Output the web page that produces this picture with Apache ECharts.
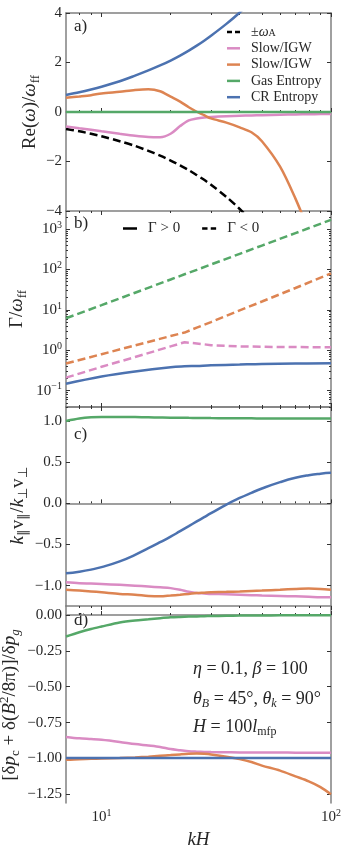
<!DOCTYPE html>
<html>
<head>
<meta charset="utf-8">
<script src="https://cdn.jsdelivr.net/npm/echarts@6/dist/echarts.min.js"></script>
<style>html,body{margin:0;padding:0;background:#fff;} #chart{width:349px;height:850px;}</style>
</head>
<body>
<div id="chart"></div>
<script>
var kH = [7, 8, 9, 10, 12, 14, 16, 18, 20, 22, 24, 26, 28, 30, 35, 40, 45, 50, 60, 70, 80, 90, 100];

// a) Re(omega)/omega_ff
var aAlfven = [-0.69, -0.78, -0.88, -0.98, -1.18, -1.37, -1.57, -1.76, -1.96, -2.16, -2.35, -2.55, -2.74, -2.94, -3.43, -3.92, -4.41];
var aSlowPink = [-0.59, -0.66, -0.72, -0.78, -0.88, -0.96, -1.01, -1.02, -0.88, -0.57, -0.34, -0.26, -0.22, -0.20, -0.17, -0.15, -0.14, -0.13, -0.11, -0.10, -0.09, -0.085, -0.08];
var aSlowOrange = [0.58, 0.63, 0.68, 0.75, 0.82, 0.89, 0.92, 0.84, 0.62, 0.42, 0.19, 0.01, -0.13, -0.26, -0.43, -0.62, -0.82, -1.18, -2.21, -3.5, -4.8];
var aGasEntropy = [0, 0, 0, 0, 0, 0, 0, 0, 0, 0, 0, 0, 0, 0, 0, 0, 0, 0, 0, 0, 0, 0, 0];
var aCrEntropy = [0.69, 0.80, 0.91, 1.02, 1.24, 1.47, 1.68, 1.88, 2.08, 2.28, 2.48, 2.68, 2.88, 3.08, 3.56, 4.02, 4.5];

// b) Gamma/omega_ff
var kHb = [7, 10, 14, 20, 23, 26, 30, 40, 50, 70, 100];
var bGasEntropy = [6.2, 13.1, 26.6, 56.5, 76, 98, 133, 244, 391, 794, 1690];
var bSlowOrange = [0.47, 0.80, 1.32, 2.25, 2.75, 3.64, 5.0, 9.7, 16.1, 34.8, 80];
var bSlowPink = [0.21, 0.39, 0.68, 1.25, 1.58, 1.48, 1.34, 1.25, 1.22, 1.20, 1.19];
var bCrEntropy = [0.148, 0.225, 0.30, 0.38, 0.40, 0.41, 0.425, 0.445, 0.46, 0.47, 0.48];

// c) k_par v_par / k_perp v_perp
var cGasEntropy = [1.0, 1.03, 1.045, 1.05, 1.05, 1.048, 1.045, 1.042, 1.04, 1.04, 1.038, 1.037, 1.036, 1.035, 1.034, 1.033, 1.032, 1.031, 1.03, 1.03, 1.03, 1.03, 1.03];
var cCrEntropy = [-0.85, -0.83, -0.805, -0.775, -0.705, -0.625, -0.545, -0.472, -0.405, -0.338, -0.277, -0.22, -0.168, -0.12, -0.015, 0.065, 0.128, 0.18, 0.257, 0.31, 0.342, 0.36, 0.37];
var cSlowPink = [-0.96, -0.97, -0.975, -0.98, -0.99, -1.0, -1.01, -1.02, -1.03, -1.05, -1.075, -1.09, -1.095, -1.10, -1.105, -1.11, -1.115, -1.12, -1.125, -1.13, -1.135, -1.14, -1.14];
var cSlowOrange = [-1.05, -1.06, -1.07, -1.08, -1.10, -1.11, -1.125, -1.13, -1.12, -1.11, -1.10, -1.09, -1.085, -1.08, -1.075, -1.07, -1.065, -1.06, -1.05, -1.04, -1.035, -1.04, -1.05];

// d) [dp_c + d(B^2/8pi)]/dp_g
var dGasEntropy = [-0.15, -0.12, -0.097, -0.08, -0.052, -0.038, -0.03, -0.022, -0.016, -0.013, -0.011, -0.01, -0.008, -0.007, -0.005, -0.004, -0.003, -0.003, -0.002, -0.002, -0.001, -0.001, -0.001];
var dSlowPink = [-0.85, -0.86, -0.865, -0.87, -0.885, -0.90, -0.91, -0.92, -0.935, -0.943, -0.95, -0.953, -0.955, -0.956, -0.957, -0.958, -0.958, -0.958, -0.959, -0.96, -0.96, -0.96, -0.96];
var dCrEntropy = [-0.997, -0.997, -0.997, -0.997, -0.997, -0.997, -0.997, -0.997, -0.997, -0.997, -0.997, -0.997, -0.997, -0.997, -0.997, -0.997, -0.997, -0.997, -0.997, -0.997, -0.997, -0.997, -0.997];
var dSlowOrange = [-1.01, -1.005, -1.003, -1.0, -0.997, -0.993, -0.988, -0.982, -0.977, -0.972, -0.968, -0.966, -0.968, -0.972, -0.988, -1.005, -1.025, -1.05, -1.085, -1.125, -1.16, -1.20, -1.25];

// tick positions
var xMajor = [10, 100];
var xMinor = [8, 9, 20, 30, 40, 50, 60, 70, 80, 90];
var aTicks = [-4, -2, 0, 2, 4];
var bTicks = [0.1, 1, 10, 100, 1000];
var cTicks = [-1, -0.5, 0, 0.5, 1];
var dTicks = [-1.25, -1, -0.75, -0.5, -0.25, 0];

var SERIF = 'Liberation Serif';
var TXT = '#262626';
var SPINE = '#808080';
var PINK = '#DA8BC3', ORANGE = '#DD8452', GREEN = '#55A868', BLUE = '#4C72B0';
var DASH_ICON = 'path://M0,0h5v2h-5z M8,0h5v2h-5z';

var bMinor = [];
for (var e = -2; e <= 3; e++) {
  for (var m = 2; m <= 9; m++) {
    var v = m * Math.pow(10, e);
    if (v > 0.0395 && v < 2800) bMinor.push(v);
  }
}

var grids = [
  {left: 66, top: 13, width: 265, height: 198},
  {left: 66, top: 211, width: 265, height: 196},
  {left: 66, top: 407, width: 265, height: 199},
  {left: 66, top: 606, width: 265, height: 197}
];

var nameRich = {
  n: {fontFamily: SERIF, fontSize: 19, color: TXT, lineHeight: 24},
  i: {fontFamily: SERIF, fontStyle: 'italic', fontSize: 19, color: TXT, lineHeight: 24},
  s: {fontFamily: SERIF, fontSize: 13, color: TXT, lineHeight: 13, verticalAlign: 'bottom'},
  si: {fontFamily: SERIF, fontStyle: 'italic', fontSize: 13, color: TXT, lineHeight: 13, verticalAlign: 'bottom'},
  p: {fontFamily: SERIF, fontSize: 13, color: TXT, lineHeight: 13, verticalAlign: 'top'}
};
var powRich = {
  b: {fontFamily: SERIF, fontSize: 15, color: TXT, lineHeight: 18},
  e: {fontFamily: SERIF, fontSize: 10, color: TXT, lineHeight: 10, verticalAlign: 'top'}
};

function powLabel(v) {
  var ex = Math.round(Math.log(v) / Math.LN10);
  return '{b|10}{e|' + String(ex).replace('-', '\u2212') + '}';
}
function fixedLabel(d) {
  return function (v) { return v.toFixed(d).replace('-', '\u2212'); };
}

function xAxesFor(g) {
  var last = g === 3;
  var base = {type: 'log', logBase: 10, min: 7, max: 100, gridIndex: g, splitLine: {show: false}};
  function ax(pos, ticks, len, line, labels) {
    var o = Object.assign({}, base, {
      position: pos,
      axisLine: {show: line, lineStyle: {color: SPINE, width: 1.5}},
      axisTick: {show: true, inside: true, length: len, customValues: ticks, lineStyle: {color: '#333', width: 1}},
      axisLabel: {show: labels, customValues: xMajor, formatter: powLabel, margin: 5, rich: powRich}
    });
    if (labels) {
      o.name = '{i|kH}';
      o.nameLocation = 'middle';
      o.nameGap = 27;
      o.nameTextStyle = {rich: {i: {fontFamily: SERIF, fontStyle: 'italic', fontSize: 19, color: TXT}}};
    }
    return o;
  }
  return [
    ax('bottom', xMajor, 4, true, last),
    ax('bottom', xMinor, 2, false, false),
    ax('top', xMajor, 4, true, false),
    ax('top', xMinor, 2, false, false)
  ];
}

// y-axis settings; the rotated axis titles are drawn as graphic text (cx, cy = centre)
// panel c draws its tick labels itself (manual: true) after the chart is laid out
var yConf = [
  {type: 'value', min: -4, max: 4, ticks: aTicks, fmt: fixedLabel(0),
   name: '{n|Re(}{i|\u03c9}{n|)/}{i|\u03c9}{s|ff}', cx: 30, cy: 112},
  {type: 'log', min: 0.0395, max: 2800, ticks: bTicks, fmt: powLabel, minor: bMinor,
   name: '{n|\u0393/}{i|\u03c9}{s|ff}', cx: 17, cy: 309},
  {type: 'value', min: -1.247, max: 1.17, ticks: cTicks, fmt: fixedLabel(1), manual: true,
   name: '{i|k}{s|\u2225}{n|v}{s|\u2225}{n|/}{i|k}{s|\u22a5}{n|v}{s|\u22a5}', cx: 18, cy: 506},
  {type: 'value', min: -1.311, max: 0.063, ticks: dTicks, fmt: fixedLabel(2),
   name: '{n|[\u03b4}{i|p}{s|c}{n| + \u03b4(}{i|B}{p|2}{n|/8\u03c0)]/\u03b4}{i|p}{si|g}', cx: 10, cy: 705}
];

var xAxes = [], yAxes = [], yMain = [];
for (var g = 0; g < 4; g++) {
  xAxes = xAxes.concat(xAxesFor(g));
  var c = yConf[g];
  var base = {type: c.type, min: c.min, max: c.max, gridIndex: g, splitLine: {show: false}};
  if (c.type === 'log') base.logBase = 10;
  yMain.push(yAxes.length);
  yAxes.push(Object.assign({}, base, {
    position: 'left',
    axisLine: {show: true, lineStyle: {color: SPINE, width: 1.5}},
    axisTick: {show: true, inside: true, length: 4, customValues: c.ticks, lineStyle: {color: '#333'}},
    axisLabel: {show: !c.manual, customValues: c.ticks, formatter: c.fmt, margin: 4, hideOverlap: false,
      fontFamily: SERIF, fontSize: 15, color: TXT, rich: powRich}
  }));
  yAxes.push(Object.assign({}, base, {
    position: 'right',
    axisLine: {show: true, lineStyle: {color: SPINE, width: 1.5}},
    axisTick: {show: true, inside: true, length: 4, customValues: c.ticks, lineStyle: {color: '#333'}},
    axisLabel: {show: false}
  }));
  if (c.minor) {
    ['left', 'right'].forEach(function (p) {
      yAxes.push(Object.assign({}, base, {
        position: p,
        axisLine: {show: false},
        axisTick: {show: true, inside: true, length: 2, customValues: c.minor, lineStyle: {color: '#333'}},
        axisLabel: {show: false}
      }));
    });
  }
}

function pts(xs, ys) {
  return ys.map(function (y, i) { return [xs[i], y]; });
}
function line(name, g, xs, ys, color, dashed, smooth) {
  return {
    name: name, type: 'line', xAxisIndex: g * 4, yAxisIndex: yMain[g],
    data: pts(xs, ys), symbol: 'none', smooth: smooth, clip: true, silent: true,
    lineStyle: {color: color, width: 2.5, type: dashed ? [8, 4] : 'solid'},
    itemStyle: {color: color}
  };
}

var series = [
  line('\u00b1\u03c9A', 0, kH, aAlfven, '#000', true, 0.3),
  line('Slow/IGW', 0, kH, aSlowPink, PINK, false, 0.3),
  line('Slow/IGW ', 0, kH, aSlowOrange, ORANGE, false, 0.3),
  line('Gas Entropy', 0, kH, aGasEntropy, GREEN, false, false),
  line('CR Entropy', 0, kH, aCrEntropy, BLUE, false, 0.3),

  line('b-pink', 1, kHb, bSlowPink, PINK, true, false),
  line('b-orange', 1, kHb, bSlowOrange, ORANGE, true, false),
  line('b-green', 1, kHb, bGasEntropy, GREEN, true, false),
  line('b-blue', 1, kHb, bCrEntropy, BLUE, false, 0.4),
  line('\u0393 > 0', 1, [], [], '#000', false, false),
  line('\u0393 < 0', 1, [], [], '#000', true, false),

  line('c-pink', 2, kH, cSlowPink, PINK, false, 0.3),
  line('c-orange', 2, kH, cSlowOrange, ORANGE, false, 0.3),
  line('c-green', 2, kH, cGasEntropy, GREEN, false, 0.3),
  line('c-blue', 2, kH, cCrEntropy, BLUE, false, 0.5),

  line('d-pink', 3, kH, dSlowPink, PINK, false, 0.3),
  line('d-orange', 3, kH, dSlowOrange, ORANGE, false, 0.3),
  line('d-green', 3, kH, dGasEntropy, GREEN, false, 0.3),
  line('d-blue', 3, kH, dCrEntropy, BLUE, false, false)
];

var legendText = {fontFamily: SERIF, fontSize: 14, color: TXT, lineHeight: 13, padding: [0, 0, 0, 6],
  rich: {
    t: {fontFamily: SERIF, fontSize: 14, color: TXT},
    i: {fontFamily: SERIF, fontStyle: 'italic', fontSize: 14, color: TXT},
    s: {fontFamily: SERIF, fontSize: 10, color: TXT, verticalAlign: 'bottom', lineHeight: 10}
  }};

function panelLabel(txt, top) {
  return {type: 'text', id: 'panel-' + txt, left: 74, top: top, silent: true,
    style: {text: txt, fontFamily: SERIF, fontSize: 17, fill: TXT}};
}
function yTitle(c, i) {
  return {type: 'text', id: 'ytitle-' + i, x: c.cx, y: c.cy, rotation: Math.PI / 2, silent: true,
    style: {text: c.name, rich: nameRich, align: 'center', verticalAlign: 'middle', fill: TXT}};
}
var annRich = {
  n: {fontFamily: SERIF, fontSize: 18, color: TXT, lineHeight: 22},
  i: {fontFamily: SERIF, fontStyle: 'italic', fontSize: 18, color: TXT, lineHeight: 22},
  s: {fontFamily: SERIF, fontStyle: 'italic', fontSize: 12, color: TXT, lineHeight: 12, verticalAlign: 'bottom'},
  r: {fontFamily: SERIF, fontSize: 12, color: TXT, lineHeight: 12, verticalAlign: 'bottom'}
};
function annotation(txt, top, i) {
  return {type: 'text', id: 'note-' + i, left: 193, top: top, silent: true,
    style: {text: txt, rich: annRich, fill: TXT}};
}

var option = {
  animation: false,
  backgroundColor: '#fff',
  grid: grids.map(function (gr) { return Object.assign({outerBoundsMode: 'none'}, gr); }),
  xAxis: xAxes,
  yAxis: yAxes,
  legend: [
    {orient: 'vertical', left: 227, top: 25, padding: 0, itemWidth: 13, itemHeight: 2.5, itemGap: 2.3,
     symbolKeepAspect: false, selectedMode: false,
     data: [
       {name: '\u00b1\u03c9A', icon: DASH_ICON},
       {name: 'Slow/IGW', icon: 'rect'},
       {name: 'Slow/IGW ', icon: 'rect'},
       {name: 'Gas Entropy', icon: 'rect'},
       {name: 'CR Entropy', icon: 'rect'}
     ],
     formatter: function (n) { return n === '\u00b1\u03c9A' ? '{t|\u00b1}{i|\u03c9}{s|A}' : '{t|' + n + '}'; },
     textStyle: legendText},
    {orient: 'horizontal', left: 123, top: 221, padding: 0, itemWidth: 14, itemHeight: 2.5, itemGap: 22,
     symbolKeepAspect: false, selectedMode: false,
     data: [{name: '\u0393 > 0', icon: 'rect'}, {name: '\u0393 < 0', icon: DASH_ICON}],
     textStyle: {fontFamily: SERIF, fontSize: 15, color: TXT, lineHeight: 14, padding: [0, 0, 0, 6]}}
  ],
  graphic: [
    panelLabel('a)', 18),
    panelLabel('b)', 215),
    panelLabel('c)', 426),
    panelLabel('d)', 612),
    annotation('{i|\u03b7}{n| = 0.1, }{i|\u03b2}{n| = 100}', 660, 0),
    annotation('{i|\u03b8}{s|B}{n| = 45\u00b0, }{i|\u03b8}{s|k}{n| = 90\u00b0}', 690, 1),
    annotation('{i|H}{n| = 100}{i|l}{r|mfp}', 718, 2)
  ].concat(yConf.map(yTitle)),
  series: series
};

var myChart = echarts.init(document.getElementById('chart'));
myChart.setOption(option);

// tick labels for panel c, placed with the axis' own scale
var extraLabels = [];
yConf.forEach(function (c, g) {
  if (!c.manual) return;
  c.ticks.forEach(function (t, k) {
    var py = myChart.convertToPixel({yAxisIndex: yMain[g]}, t);
    extraLabels.push({type: 'text', id: 'ylab-' + g + '-' + k, x: grids[g].left - 4, y: py, silent: true,
      style: {text: c.fmt(t), align: 'right', verticalAlign: 'middle',
        fontFamily: SERIF, fontSize: 15, fill: TXT}});
  });
});
myChart.setOption({graphic: extraLabels});
</script>
</body>
</html>
